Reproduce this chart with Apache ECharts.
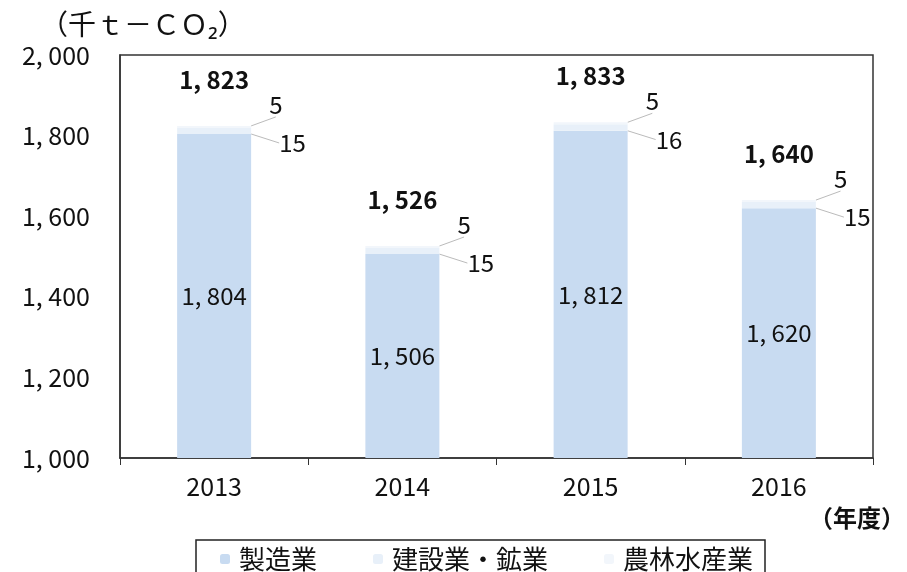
<!DOCTYPE html>
<html><head><meta charset="utf-8">
<script src="https://cdn.jsdelivr.net/npm/echarts@6/dist/echarts.min.js"></script>
<style>html,body{margin:0;padding:0;background:#fff}#c{width:907px;height:572px}</style>
</head><body><div id="c"></div>
<script>
const categories = ['2013', '2014', '2015', '2016'];
const manufacturing = [1804, 1506, 1812, 1620];
const construction = [15, 15, 16, 15];
const agriculture = [5, 5, 5, 5];
const totals = [1823, 1526, 1833, 1640];
const seriesNames = ['製造業', '建設業・鉱業', '農林水産業'];
const yTicks = [1000, 1200, 1400, 1600, 1800, 2000];

const FONT = '"Noto Sans CJK JP", "Noto Sans", sans-serif';
const fmt = v => v.toLocaleString('en-US').replace(',', ', ');

const chart = echarts.init(document.getElementById('c'));
chart.setOption({
  backgroundColor: '#ffffff',
  animation: false,
  textStyle: { fontFamily: FONT, color: '#111' },
  grid: { left: 120, right: 34, top: 55, bottom: 114, show: true, borderColor: '#333', borderWidth: 1.5, backgroundColor: 'transparent' },
  legend: {
    data: seriesNames,
    bottom: -16,
    left: 196,
    width: 574,
    itemGap: 56,
    itemWidth: 10,
    itemHeight: 10,
    padding: [6, 12, 16, 24],
    borderColor: '#222',
    borderWidth: 1.5,
    textStyle: { fontSize: 26, color: '#111', fontFamily: FONT, padding: [0, 0, 0, 4] }
  },
  graphic: [
    { type: 'text', left: 40, top: 10, style: { text: '（千ｔ－ＣＯ₂）', font: '28px ' + FONT, fill: '#111' } },
    { type: 'text', right: 2, top: 506, style: { text: '（年度）', font: 'bold 24px ' + FONT, fill: '#111' } }
  ],
  xAxis: {
    type: 'category',
    data: categories,
    axisLine: { lineStyle: { color: '#333', width: 1.5 } },
    axisTick: { show: true, length: 7, lineStyle: { color: '#333' } },
    axisLabel: { fontSize: 25, color: '#111', margin: 16, fontFamily: FONT }
  },
  yAxis: {
    type: 'value',
    min: 1000, max: 2000, interval: 200,
    axisLine: { show: true, lineStyle: { color: '#333', width: 1.5 } },
    axisTick: { show: false },
    splitLine: { show: false },
    axisLabel: { fontSize: 25, color: '#111', margin: 30, fontFamily: FONT, formatter: v => yTicks.includes(v) ? fmt(v) : '' }
  },
  series: [
    {
      name: seriesNames[0], type: 'bar', stack: 's', barWidth: 74,
      data: manufacturing,
      itemStyle: { color: '#c8dbf1' },
      label: { show: true, position: 'inside', fontSize: 24, color: '#111', fontFamily: FONT, formatter: p => fmt(p.value) }
    },
    {
      name: seriesNames[1], type: 'bar', stack: 's',
      data: construction,
      itemStyle: { color: '#e8f0f9' },
      label: { show: true, position: 'right', distance: 8, fontSize: 24, color: '#111', fontFamily: FONT },
      labelLayout: { dx: 20, dy: 12 },
      labelLine: { show: true, lineStyle: { color: '#bbb', width: 1 } }
    },
    {
      name: seriesNames[2], type: 'bar', stack: 's',
      data: agriculture,
      itemStyle: { color: '#f2f6fb' },
      label: { show: true, position: 'right', distance: 8, fontSize: 24, color: '#111', fontFamily: FONT },
      labelLayout: { dx: 10, dy: -22 },
      labelLine: { show: true, lineStyle: { color: '#bbb', width: 1 } }
    },
    {
      name: 'total', type: 'bar', stack: 's',
      data: categories.map(() => 0),
      itemStyle: { color: 'transparent' },
      label: { show: true, position: 'top', distance: 34, fontSize: 24, fontWeight: 'bold', color: '#111', fontFamily: FONT, formatter: p => fmt(totals[p.dataIndex]) }
    }
  ]
});
</script></body></html>
